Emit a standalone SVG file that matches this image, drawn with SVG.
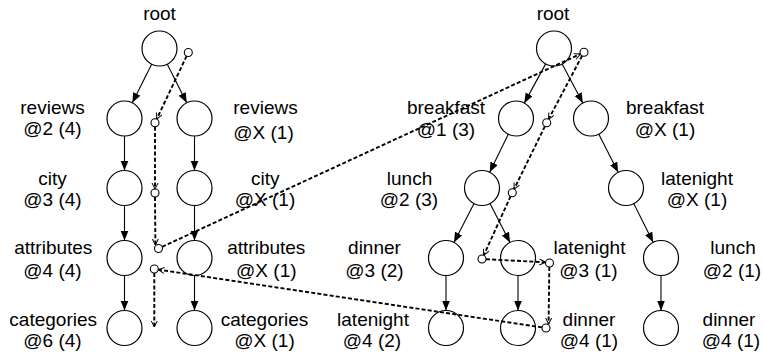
<svg xmlns="http://www.w3.org/2000/svg" width="764" height="352" viewBox="0 0 764 352">
  <style>
    text { font-family: "Liberation Sans", Arial, Helvetica, sans-serif; font-size: 19px; fill: #000; text-anchor: middle; }
    .node { fill: none; stroke: #000; stroke-width: 1.2; }
    .port { fill: #fff; stroke: #000; stroke-width: 1.1; }
    .edge { fill: none; stroke: #000; stroke-width: 1.1; marker-end: url(#solid); }
    .walk { fill: none; stroke: #000; stroke-width: 1.9; stroke-dasharray: 4 2.2; marker-end: url(#open); }
  </style>
  <defs>
    <marker id="solid" markerUnits="userSpaceOnUse" markerWidth="11" markerHeight="9" refX="10" refY="4" orient="auto">
      <path d="M0,0 L10,4 L0,8 z" fill="#000" stroke="none"/>
    </marker>
    <marker id="open" markerUnits="userSpaceOnUse" markerWidth="8" markerHeight="8" refX="6.5" refY="3.5" orient="auto">
      <path d="M0.5,0.5 L6.5,3.5 L0.5,6.5" fill="none" stroke="#000" stroke-width="1" stroke-dasharray="none"/>
    </marker>
  </defs>
  <rect width="764" height="352" fill="#fff"/>

  <!-- tree edges -->
  <g id="edges">
    <path class="edge" d="M151.67,64.15 L132.33,102.85"/>
    <path class="edge" d="M167.33,64.15 L186.67,102.85"/>
    <path class="edge" d="M124.5,136 L124.5,170.5"/>
    <path class="edge" d="M194.5,136 L194.5,170.5"/>
    <path class="edge" d="M124.5,205.5 L124.5,240.5"/>
    <path class="edge" d="M194.5,205.5 L194.5,240.5"/>
    <path class="edge" d="M124.5,275.5 L124.5,310.5"/>
    <path class="edge" d="M194.5,275.5 L194.5,310.5"/>

    <path class="edge" d="M545.65,63.88 L524.35,103.12"/>
    <path class="edge" d="M562.18,63.97 L582.82,103.03"/>
    <path class="edge" d="M508.31,134.22 L489.69,172.28"/>
    <path class="edge" d="M598.87,134.13 L618.13,172.37"/>
    <path class="edge" d="M474,203.56 L454,242.44"/>
    <path class="edge" d="M490,203.56 L510,242.44"/>
    <path class="edge" d="M633.83,203.65 L653.17,242.35"/>
    <path class="edge" d="M446,275.5 L446,310.5"/>
    <path class="edge" d="M518,275.5 L518,310.5"/>
    <path class="edge" d="M661,275.5 L661,310.5"/>
  </g>

  <!-- traversal path (dashed) -->
  <g id="walk">
    <path class="walk" d="M186.6,56.1 L156.7,119.1"/>
    <path class="walk" d="M155,126.7 L155,189"/>
    <path class="walk" d="M155,197 L155.4,245"/>
    <path class="walk" d="M162.1,246.8 L580.4,54"/>
    <path class="walk" d="M582.1,55.8 L548.6,119.2"/>
    <path class="walk" d="M544.9,126.3 L514.1,189.1"/>
    <path class="walk" d="M510.6,196.3 L483.7,255.4"/>
    <path class="walk" d="M486,259.2 L545.5,262.3"/>
    <path class="walk" d="M549.3,267 L548.6,324"/>
    <path class="walk" d="M542,327.4 L158.3,269.6"/>
    <path class="walk" d="M154.3,273 L154.3,327"/>
    <circle class="port" cx="188.3" cy="52.5" r="4"/>
    <circle class="port" cx="155" cy="122.7" r="4"/>
    <circle class="port" cx="155" cy="193" r="4"/>
    <circle class="port" cx="158.5" cy="248.5" r="4"/>
    <circle class="port" cx="154.3" cy="269" r="4"/>
    <circle class="port" cx="584" cy="52.3" r="4"/>
    <circle class="port" cx="546.7" cy="122.7" r="4"/>
    <circle class="port" cx="512.3" cy="192.7" r="4"/>
    <circle class="port" cx="482" cy="259" r="4"/>
    <circle class="port" cx="549.5" cy="263" r="4"/>
    <circle class="port" cx="546" cy="328" r="4"/>
  </g>

  <!-- left tree -->
  <g id="l-root"><circle class="node" cx="159.5" cy="48.5" r="17.5"/><text x="159.5" y="20">root</text></g>
  <g id="l-reviews"><circle class="node" cx="124.5" cy="118.5" r="17.5"/><text x="52.5" y="113.5">reviews</text><text x="52.5" y="135">@2 (4)</text></g>
  <g id="l-reviews-x"><circle class="node" cx="194.5" cy="118.5" r="17.5"/><text x="265.5" y="113.5">reviews</text><text x="263.5" y="139">@X (1)</text></g>
  <g id="l-city"><circle class="node" cx="124.5" cy="188" r="17.5"/><text x="52.5" y="184.5">city</text><text x="52.5" y="206">@3 (4)</text></g>
  <g id="l-city-x"><circle class="node" cx="194.5" cy="188" r="17.5"/><text x="265.3" y="184.5">city</text><text x="265" y="206">@X (1)</text></g>
  <g id="l-attributes"><circle class="node" cx="124.5" cy="258" r="17.5"/><text x="53.3" y="254">attributes</text><text x="52.5" y="276.5">@4 (4)</text></g>
  <g id="l-attributes-x"><circle class="node" cx="194.5" cy="258" r="17.5"/><text x="266.3" y="254">attributes</text><text x="266.3" y="276.5">@X (1)</text></g>
  <g id="l-categories"><circle class="node" cx="124.5" cy="328" r="17.5"/><text x="53.2" y="325.5">categories</text><text x="52.5" y="347">@6 (4)</text></g>
  <g id="l-categories-x"><circle class="node" cx="194.5" cy="328" r="17.5"/><text x="264.5" y="325.5">categories</text><text x="264.5" y="347">@X (1)</text></g>

  <!-- right tree -->
  <g id="r-root"><circle class="node" cx="554" cy="48.5" r="17.5"/><text x="553" y="20">root</text></g>
  <g id="r-breakfast"><circle class="node" cx="516" cy="118.5" r="17.5"/><text x="446" y="114">breakfast</text><text x="446" y="136">@1 (3)</text></g>
  <g id="r-breakfast-x"><circle class="node" cx="591" cy="118.5" r="17.5"/><text x="665" y="114">breakfast</text><text x="665" y="136">@X (1)</text></g>
  <g id="r-lunch"><circle class="node" cx="482" cy="188" r="17.5"/><text x="409.5" y="184.5">lunch</text><text x="409" y="206">@2 (3)</text></g>
  <g id="r-latenight-x"><circle class="node" cx="626" cy="188" r="17.5"/><text x="697" y="184.5">latenight</text><text x="697" y="206">@X (1)</text></g>
  <g id="r-dinner"><circle class="node" cx="446" cy="258" r="17.5"/><text x="374.5" y="254">dinner</text><text x="374.5" y="276.5">@3 (2)</text></g>
  <g id="r-latenight"><circle class="node" cx="518" cy="258" r="17.5"/><text x="589.5" y="254">latenight</text><text x="588.5" y="276.5">@3 (1)</text></g>
  <g id="r-lunch-2"><circle class="node" cx="661" cy="258" r="17.5"/><text x="733" y="254">lunch</text><text x="732" y="276.5">@2 (1)</text></g>
  <g id="r-latenight-4"><circle class="node" cx="446" cy="328" r="17.5"/><text x="373" y="325.5">latenight</text><text x="372" y="347">@4 (2)</text></g>
  <g id="r-dinner-4"><circle class="node" cx="518" cy="328" r="17.5"/><text x="589" y="325.5">dinner</text><text x="589" y="347">@4 (1)</text></g>
  <g id="r-dinner-4b"><circle class="node" cx="661" cy="328" r="17.5"/><text x="729" y="325.5">dinner</text><text x="731" y="347">@4 (1)</text></g>
</svg>
